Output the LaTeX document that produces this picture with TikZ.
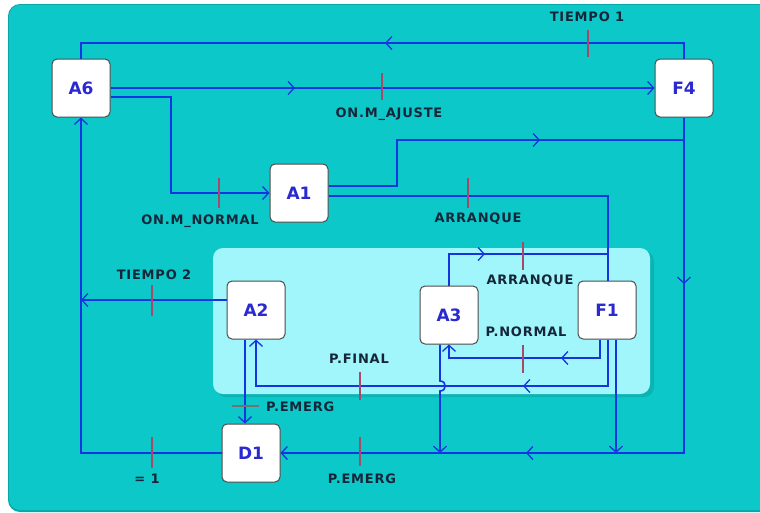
\documentclass[tikz,border=0pt]{standalone}
\usepackage{fontspec}
\setmainfont{DejaVu Sans}
\newfontfamily\lblfamily[LetterSpace=6]{DejaVu Sans}
\usetikzlibrary{arrows.meta}
\definecolor{bgteal}{HTML}{0CC8C8}
\definecolor{bgedge}{HTML}{08A8A8}
\definecolor{innercyan}{HTML}{A0F6FA}
\definecolor{innershadow}{HTML}{0AB4B4}
\definecolor{flowblue}{HTML}{1535E0}
\definecolor{tickred}{HTML}{A8486A}
\definecolor{labeltext}{HTML}{16263A}
\definecolor{nodetext}{HTML}{2A2AD0}
\begin{document}
\begin{tikzpicture}[x=1pt,y=-1pt,
  stnode/.style={draw=black!70, line width=1pt, fill=white, rounded corners=5pt,
    minimum width=58pt, minimum height=58pt, inner sep=0pt,
    font=\bfseries\fontsize{17}{20}\selectfont, text=nodetext},
  flow/.style={draw=flowblue, line width=1.6pt},
  endtip/.style={-{Straight Barb[length=6pt,width=13pt,line width=1.3pt]}},
  chev/.style={flow, endtip},
  tickmark/.style={draw=tickred, line width=1.6pt},
  lbl/.style={font={\lblfamily\bfseries\fontsize{13}{15}\selectfont}, text=labeltext, inner sep=0pt}
]
\path[use as bounding box] (0,0) rectangle (760,512);
\begin{scope}
\clip (0,0) rectangle (760,512);
\fill[bgedge, rounded corners=12pt] (8,4) rectangle (780,512);
\fill[bgteal, rounded corners=11pt] (9,5) rectangle (780,510);
\end{scope}
% inner region
\fill[innershadow, rounded corners=10pt] (216,251) rectangle (654,397);
\fill[innercyan, rounded corners=10pt] (213,248) rectangle (650,394);

% nodes
\node[stnode] (A6) at (81,88) {A6};
\node[stnode] (F4) at (684,88) {F4};
\node[stnode] (A1) at (299,193) {A1};
\node[stnode] (A2) at (256,310) {A2};
\node[stnode] (D1) at (251,453) {D1};
\node[stnode] (A3) at (449,315) {A3};
\node[stnode] (F1) at (607,310) {F1};

% helper coordinates
\coordinate (topY) at (0,43);
\coordinate (k1) at (171,193);
\coordinate (k2) at (397,140);
\coordinate (j1) at (684,140);
\coordinate (ayY) at (0,254);
\coordinate (pnY) at (0,358);
\coordinate (pfY) at (0,386);
\coordinate (hopT) at (0,381);
\coordinate (hopB) at (0,391);
\coordinate (botY) at (0,453);

% TIEMPO 1 : F4 -> A6
\draw[flow] (F4.north) -- (F4.north |- topY) -- (A6.north |- topY) -- (A6.north);
\draw[chev] (395,43) -- (385,43);
\draw[tickmark] (588,30) -- (588,57);
\node[lbl] (lt1) at (587,17) {TIEMPO 1};

% ON.M_AJUSTE : A6 -> F4
\draw[flow, endtip] (A6.east) -- (F4.west);
\draw[chev] (285,88) -- (295,88);
\draw[tickmark] (382,73) -- (382,100);
\node[lbl] (laj) at (389,114) {ON.M\_AJUSTE};

% ON.M_NORMAL : A6 -> A1
\draw[flow, endtip] ([yshift=-9pt]A6.east) -| (k1) -- (A1.west);
\draw[tickmark] (219,178) -- (219,208);
\node[lbl] (lno) at (200,221) {ON.M\_NORMAL};

% A1 -> F4 line (P.EMERG)
\draw[flow] ([yshift=7pt]A1.east) -| (k2) -- (j1);
\draw[chev] (530,140) -- (540,140);

% F4 -> D1 (P.EMERG)
\draw[flow, endtip] (F4.south) |- (D1.east);
\draw[chev] (684,274) -- (684,284);
\draw[chev] (536,453) -- (526,453);
\draw[tickmark] (360,437) -- (360,466);
\node[lbl] (lem2) at (362,479) {P.EMERG};

% ARRANQUE : A1 -> F1
\draw[flow] ([yshift=-3pt]A1.east) -| ([xshift=1pt]F1.north);
\draw[tickmark] (468,178) -- (468,208);
\node[lbl] (lar1) at (478,219) {ARRANQUE};

% ARRANQUE : A3 -> F1
\draw[flow] (A3.north) |- ([xshift=1pt]F1.north |- ayY);
\draw[chev] (475,254) -- (485,254);
\draw[tickmark] (523,242) -- (523,270);
\node[lbl] (lar2) at (530,281) {ARRANQUE};

% P.NORMAL : F1 -> A3
\draw[flow, endtip] ([xshift=-7pt]F1.south) -- ([xshift=-7pt]F1.south |- pnY) -- (A3.south |- pnY) -- (A3.south);
\draw[chev] (571,358) -- (561,358);
\draw[tickmark] (523,345) -- (523,373);
\node[lbl] (lpn) at (526,332) {P.NORMAL};

% P.FINAL : F1 -> A2
\draw[flow, endtip] ([xshift=1pt]F1.south) -- ([xshift=1pt]F1.south |- pfY) -- (A2.south |- pfY) -- (A2.south);
\draw[chev] (533,386) -- (523,386);
\draw[tickmark] (360,372) -- (360,400);
\node[lbl] (lpf) at (359,359) {P.FINAL};

% A3 -> D1 line (with hop)
\draw[flow, endtip] ([xshift=-9pt]A3.south) -- ([xshift=-9pt]A3.south |- hopT)
  .. controls +(7,0) and +(7,0) .. ([xshift=-9pt]A3.south |- hopB)
  -- ([xshift=-9pt]A3.south |- botY);

% F1 -> D1 line
\draw[flow, endtip] ([xshift=9pt]F1.south) -- ([xshift=9pt]F1.south |- botY);

% P.EMERG : A2 -> D1
\draw[flow, endtip] ([xshift=-11pt]A2.south) -- ([xshift=-11pt]A2.south |- D1.north);
\draw[draw=black!55, line width=1.6pt] (232,406) -- (259,406);
\node[lbl, anchor=west] (lem1) at (266,407) {P.EMERG};

% TIEMPO 2 : A2 -> A6
\draw[flow, endtip] ([yshift=10pt]A2.west) -- ([yshift=10pt]A2.west -| A6.south);
\draw[tickmark] (152,285) -- (152,316);
\node[lbl] (lt2) at (154,275) {TIEMPO 2};

% = 1 : D1 -> A6
\draw[flow, endtip] (D1.west) -| (A6.south);
\draw[tickmark] (152,437) -- (152,468);
\node[lbl] (leq) at (147,479) {= 1};
\end{tikzpicture}
\end{document}
